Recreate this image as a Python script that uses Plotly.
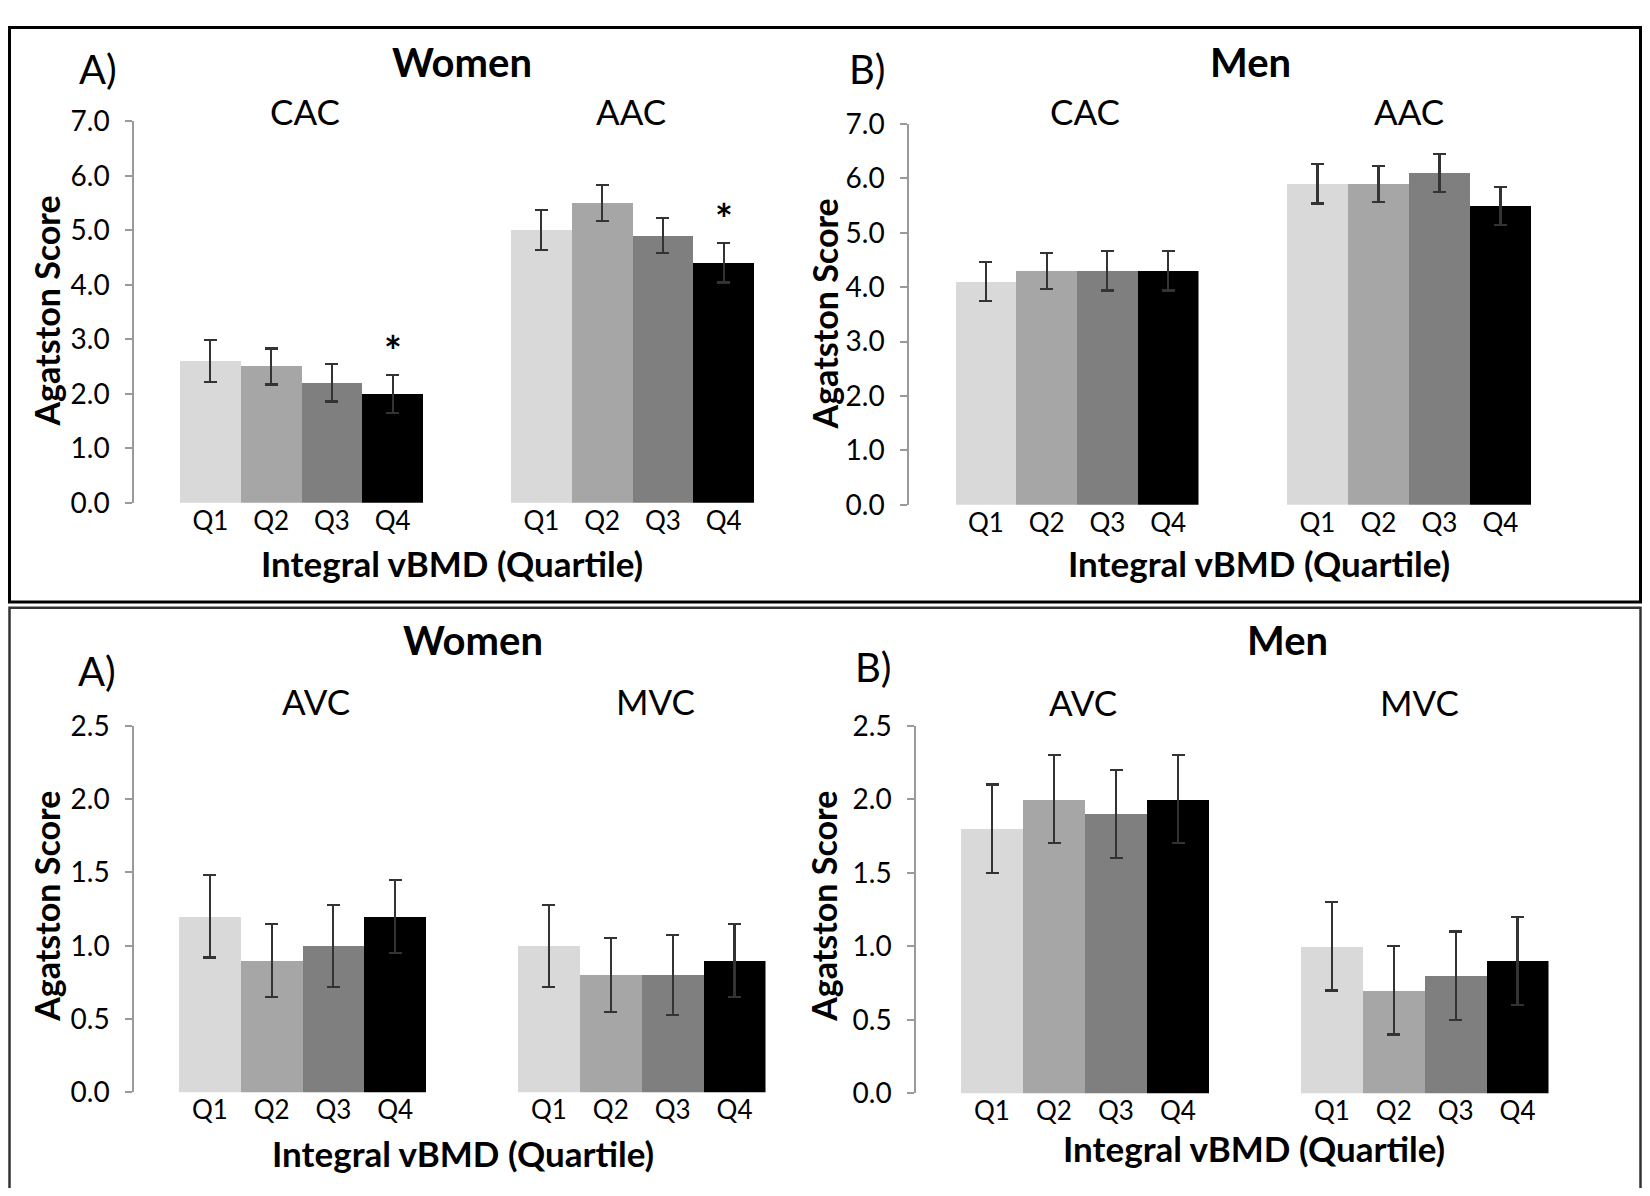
import plotly.graph_objects as go

# ---------------- data ----------------
quartiles = ["Q1", "Q2", "Q3", "Q4"]
bar_colors = ["#d9d9d9", "#a6a6a6", "#7f7f7f", "#000000"]

women_cac = [2.6, 2.5, 2.2, 2.0]
women_cac_err = [0.38, 0.33, 0.34, 0.35]
women_aac = [5.0, 5.5, 4.9, 4.4]
women_aac_err = [0.37, 0.33, 0.32, 0.36]

men_cac = [4.1, 4.3, 4.3, 4.3]
men_cac_err = [0.36, 0.33, 0.36, 0.36]
men_aac = [5.9, 5.9, 6.1, 5.5]
men_aac_err = [0.36, 0.33, 0.35, 0.35]

women_avc = [1.2, 0.9, 1.0, 1.2]
women_avc_err = [0.28, 0.25, 0.28, 0.25]
women_mvc = [1.0, 0.8, 0.8, 0.9]
women_mvc_err = [0.28, 0.25, 0.275, 0.25]

men_avc = [1.8, 2.0, 1.9, 2.0]
men_avc_err = [0.3, 0.3, 0.3, 0.3]
men_mvc = [1.0, 0.7, 0.8, 0.9]
men_mvc_err = [0.3, 0.3, 0.3, 0.3]

# ---------------- layout helpers ----------------
# the page adds an 8px body margin on every side; the figure is sized so the
# whole page is exactly 1650x1196, and all positions below are page pixels.
OFF = 8
FW, FH = 1650 - 2 * OFF, 1196 - 2 * OFF
FONT = "Lato, 'Open Sans', Arial, sans-serif"


def px(x):
    return (x - OFF) / FW


def py(y):
    return 1 - (y - OFF) / FH


fig = go.Figure()

panels = [
    dict(axis=134, g1=(180, 423), g2=(511, 754), y0=499, ytop=106, ymax=7.0, dtick=1.0,
         d1=(women_cac, women_cac_err), d2=(women_aac, women_aac_err), star=(True, True)),
    dict(axis=909, g1=(955.5, 1198.5), g2=(1287, 1531), y0=501, ytop=109, ymax=7.0, dtick=1.0,
         d1=(men_cac, men_cac_err), d2=(men_aac, men_aac_err), star=(False, False)),
    dict(axis=134, g1=(179, 426), g2=(518, 765.5), y0=1106, ytop=728.5, ymax=2.5, dtick=0.5,
         d1=(women_avc, women_avc_err), d2=(women_mvc, women_mvc_err), star=(False, False)),
    dict(axis=916, g1=(961, 1209), g2=(1301, 1548.5), y0=1107, ytop=728.5, ymax=2.5, dtick=0.5,
         d1=(men_avc, men_avc_err), d2=(men_mvc, men_mvc_err), star=(False, False)),
]

layout_axes = {}
annotations = []
idx = 1
xs = list(range(len(quartiles)))
for p in panels:
    for gi, (g, d, star) in enumerate([(p["g1"], p["d1"], p["star"][0]), (p["g2"], p["d2"], p["star"][1])]):
        vals, errs = d
        bw = (g[1] - g[0]) / len(vals)
        if gi == 0:
            left_px = p["axis"]
            xr = [-0.5 - (g[0] - p["axis"]) / bw, len(vals) - 0.5]
        else:
            left_px = g[0]
            xr = [-0.5, len(vals) - 0.5]
        xname = "xaxis" if idx == 1 else f"xaxis{idx}"
        yname = "yaxis" if idx == 1 else f"yaxis{idx}"
        xref = "x" if idx == 1 else f"x{idx}"
        yref = "y" if idx == 1 else f"y{idx}"
        fig.add_trace(go.Bar(
            x=xs, y=vals, xaxis=xref, yaxis=yref,
            marker=dict(color=bar_colors, line=dict(width=0)),
            error_y=dict(type="data", array=errs, visible=True,
                         color="#333333", thickness=2.2, width=6.5),
            showlegend=False, hoverinfo="skip",
        ))
        layout_axes[xname] = dict(
            domain=[px(left_px), px(g[1])], range=xr, anchor=yref,
            showline=False, showgrid=False, zeroline=False, ticks="",
            tickmode="array", tickvals=xs, ticktext=quartiles,
            tickfont=dict(family=FONT, size=26, color="#000"),
        )
        layout_axes[yname] = dict(
            domain=[py(p["y0"]), py(p["ytop"])], range=[0, p["ymax"]], anchor=xref,
            showgrid=False, zeroline=False,
            showline=(gi == 0), linecolor="#9a9a9a", linewidth=1.5,
            ticks="outside" if gi == 0 else "", ticklen=7, tickcolor="#9a9a9a", tickwidth=1.5,
            showticklabels=(gi == 0), dtick=p["dtick"], tick0=0, tickformat=".1f",
            ticklabelstandoff=10,
            tickfont=dict(family=FONT, size=28, color="#000"),
        )
        if star:
            annotations.append(dict(
                x=len(vals) - 1, y=vals[-1] + errs[-1], xref=xref, yref=yref,
                text="<b>*</b>", showarrow=False, yanchor="middle", yshift=24,
                font=dict(family=FONT, size=42, color="#000"),
            ))
        idx += 1


def label(text, x, y, size, bold=False, angle=0):
    annotations.append(dict(
        x=px(x), y=py(y), xref="paper", yref="paper",
        text=f"<b>{text}</b>" if bold else text, showarrow=False,
        xanchor="center", yanchor="middle", textangle=angle,
        font=dict(family=FONT, size=size, color="#000"),
    ))


# top A
label("A)", 98, 52, 40)
label("Women", 462, 45, 40, bold=True)
label("CAC", 305, 96, 35)
label("AAC", 631, 96, 35)
label("Integral vBMD (Quartile)", 452, 561, 35, bold=True)
label("Agatston Score", 47, 302, 34, bold=True, angle=-90)
# top B
label("B)", 867, 52, 40)
label("Men", 1250, 45, 40, bold=True)
label("CAC", 1085, 96, 35)
label("AAC", 1409, 96, 35)
label("Integral vBMD (Quartile)", 1259, 561, 35, bold=True)
label("Agatston Score", 824, 305, 34, bold=True, angle=-90)
# bottom A
label("A)", 97, 672, 40)
label("Women", 473, 640, 40, bold=True)
label("AVC", 316, 703, 35)
label("MVC", 655, 703, 35)
label("Integral vBMD (Quartile)", 463, 1168, 35, bold=True)
label("Agatston Score", 47, 915, 34, bold=True, angle=-90)
# bottom B
label("B)", 873, 668, 40)
label("Men", 1287, 640, 40, bold=True)
label("AVC", 1083, 704, 35)
label("MVC", 1419, 704, 35)
label("Integral vBMD (Quartile)", 1254, 1163, 35, bold=True)
label("Agatston Score", 824, 915, 34, bold=True, angle=-90)

L, R = px(9.5), px(1640.5)
shapes = [
    dict(type="rect", xref="paper", yref="paper", x0=L, x1=R, y0=py(601), y1=py(9.5),
         line=dict(color="#000", width=3), fillcolor="rgba(0,0,0,0)"),
    dict(type="path", xref="paper", yref="paper",
         path=f"M {L},{py(1230)} L {L},{py(607)} L {R},{py(607)} L {R},{py(1230)}",
         line=dict(color="#333", width=2.5)),
]

fig.update_layout(
    width=FW, height=FH, margin=dict(l=0, r=0, t=0, b=0),
    paper_bgcolor="white", plot_bgcolor="white",
    bargap=0, showlegend=False,
    annotations=annotations, shapes=shapes,
    font=dict(family=FONT, color="#000"),
    **layout_axes,
)

fig.write_html("out.html", config={"displayModeBar": False})
